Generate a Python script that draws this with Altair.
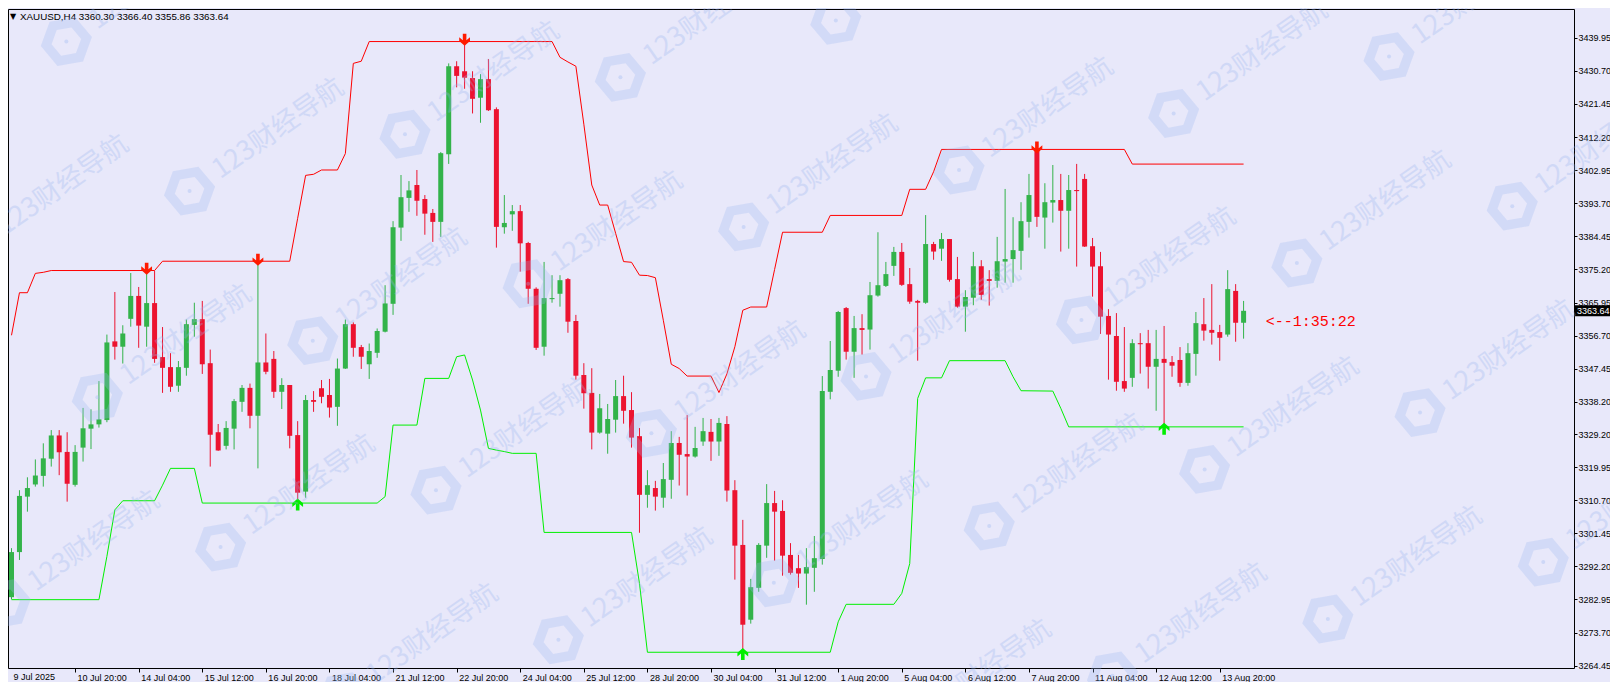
import altair as alt
import pandas as pd

# ---------------- data (H4 candles, k = 0..155) ----------------
OPEN = [3283.6, 3296.2, 3311.7, 3315.1, 3317.5, 3322.3, 3328.8, 3324.2, 3315.0, 3325.4,
        3330.7, 3331.9, 3333.1, 3355.1, 3353.6, 3361.4, 3367.8, 3359.2, 3365.8, 3350.7,
        3347.9, 3342.7, 3347.7, 3359.7, 3361.3, 3349.0, 3329.7, 3325.9, 3330.7, 3338.2,
        3342.1, 3334.3, 3349.2, 3350.2, 3341.0, 3342.9, 3328.9, 3313.1, 3338.7, 3342.0,
        3340.1, 3336.8, 3347.5, 3359.9, 3353.5, 3348.7, 3351.9, 3357.8, 3365.6, 3386.9,
        3395.2, 3398.8, 3394.9, 3391.0, 3388.5, 3407.4, 3432.0, 3430.6, 3428.7, 3423.2,
        3428.4, 3420.0, 3387.0, 3390.6, 3391.5, 3382.6, 3369.8, 3353.6, 3366.9, 3368.4,
        3372.5, 3360.8, 3345.7, 3340.7, 3329.6, 3329.3, 3333.2, 3339.8, 3335.9, 3328.6,
        3312.2, 3314.1, 3311.4, 3316.4, 3326.7, 3323.6, 3322.9, 3327.1, 3329.8, 3327.1,
        3332.0, 3313.5, 3298.2, 3277.3, 3286.2, 3298.0, 3309.9, 3307.7, 3295.4, 3291.7,
        3290.2, 3291.8, 3294.3, 3341.0, 3346.9, 3364.4, 3352.2, 3358.8, 3358.4, 3367.9,
        3370.6, 3376.2, 3380.1, 3371.1, 3366.4, 3365.9, 3382.3, 3381.0, 3383.7, 3372.5,
        3364.8, 3367.3, 3376.1, 3372.5, 3372.0, 3377.4, 3378.1, 3380.4, 3388.5, 3408.6,
        3389.7, 3393.9, 3394.6, 3391.6, 3397.4, 3400.5, 3381.7, 3376.1, 3362.2, 3356.6,
        3344.0, 3344.9, 3354.6, 3354.6, 3348.0, 3350.2, 3349.3, 3349.9, 3343.5, 3351.6,
        3359.9, 3358.3, 3357.7, 3357.0, 3369.2, 3360.30]
HIGH = [3297.3, 3313.5, 3317.1, 3322.1, 3326.6, 3330.3, 3330.3, 3329.7, 3326.1, 3336.5,
        3336.1, 3344.0, 3357.0, 3368.9, 3359.6, 3374.2, 3370.3, 3374.9, 3374.8, 3359.1,
        3351.8, 3349.6, 3361.2, 3365.9, 3366.4, 3352.8, 3332.0, 3332.8, 3339.0, 3342.9,
        3343.3, 3377.4, 3357.3, 3352.4, 3344.8, 3342.9, 3332.8, 3340.1, 3341.2, 3344.3,
        3344.6, 3350.3, 3361.2, 3360.4, 3354.1, 3354.5, 3358.7, 3370.8, 3388.7, 3401.6,
        3399.9, 3403.0, 3396.0, 3392.1, 3408.0, 3432.8, 3433.4, 3438.9, 3430.6, 3429.8,
        3434.0, 3420.5, 3396.0, 3393.2, 3393.2, 3382.9, 3370.2, 3377.3, 3373.6, 3373.6,
        3372.8, 3362.5, 3349.0, 3347.6, 3340.4, 3337.6, 3344.3, 3345.5, 3340.9, 3330.9,
        3319.1, 3316.1, 3321.1, 3330.0, 3328.4, 3334.5, 3331.2, 3333.7, 3333.4, 3333.7,
        3334.2, 3316.3, 3305.2, 3288.7, 3298.7, 3315.2, 3313.3, 3310.7, 3298.7, 3295.4,
        3297.3, 3300.7, 3345.4, 3355.2, 3363.6, 3364.7, 3362.2, 3362.7, 3371.7, 3385.6,
        3377.3, 3381.5, 3382.6, 3375.6, 3366.7, 3390.4, 3382.9, 3385.4, 3383.7, 3378.7,
        3369.4, 3380.1, 3377.8, 3375.0, 3384.3, 3397.7, 3389.8, 3394.0, 3401.9, 3408.8,
        3399.3, 3404.4, 3401.9, 3401.6, 3404.7, 3401.9, 3384.0, 3380.1, 3364.1, 3363.0,
        3359.1, 3355.7, 3357.4, 3358.3, 3358.3, 3359.4, 3351.0, 3353.5, 3354.6, 3363.3,
        3367.2, 3371.1, 3359.7, 3375.0, 3371.1, 3366.40]
LOW = [3283.0, 3294.0, 3307.5, 3314.5, 3314.5, 3320.1, 3317.7, 3310.3, 3314.5, 3321.5,
       3325.0, 3331.0, 3332.5, 3350.0, 3348.9, 3359.2, 3353.3, 3353.6, 3349.1, 3340.7,
       3341.0, 3341.0, 3345.5, 3356.4, 3346.0, 3320.1, 3324.5, 3324.9, 3324.9, 3335.4,
       3330.8, 3319.6, 3345.9, 3339.3, 3336.2, 3325.2, 3310.0, 3311.4, 3335.4, 3337.8,
       3333.8, 3331.5, 3347.4, 3350.8, 3347.4, 3344.6, 3350.5, 3357.6, 3362.5, 3383.2,
       3391.3, 3390.2, 3384.9, 3382.9, 3384.3, 3404.7, 3426.1, 3425.7, 3418.8, 3416.2,
       3419.5, 3381.3, 3385.2, 3386.0, 3374.6, 3365.6, 3352.7, 3351.1, 3365.9, 3364.8,
       3357.5, 3344.4, 3336.3, 3324.9, 3329.3, 3323.7, 3329.6, 3332.1, 3325.4, 3301.6,
       3308.6, 3307.8, 3308.6, 3311.1, 3314.8, 3312.0, 3322.6, 3325.9, 3321.7, 3323.1,
       3310.3, 3288.5, 3268.2, 3276.2, 3285.1, 3294.6, 3293.8, 3289.6, 3289.9, 3286.2,
       3281.5, 3285.1, 3292.7, 3338.9, 3345.2, 3350.0, 3344.9, 3351.4, 3352.8, 3367.6,
       3370.3, 3373.4, 3370.6, 3365.6, 3349.7, 3365.6, 3377.9, 3377.6, 3371.8, 3364.5,
       3357.8, 3365.2, 3366.7, 3365.1, 3370.1, 3371.5, 3371.5, 3375.1, 3384.1, 3387.1,
       3381.0, 3388.3, 3380.2, 3381.0, 3376.0, 3381.5, 3367.6, 3357.2, 3344.4, 3341.3,
       3341.0, 3342.4, 3346.1, 3341.9, 3335.7, 3331.2, 3345.2, 3342.4, 3342.7, 3345.5,
       3355.3, 3354.2, 3349.7, 3356.4, 3355.0, 3355.86]
CLOSE = [3296.2, 3311.9, 3314.1, 3317.6, 3322.4, 3328.8, 3324.1, 3315.3, 3324.2, 3330.8,
         3331.9, 3333.3, 3354.8, 3353.6, 3357.3, 3367.8, 3359.5, 3365.8, 3350.2, 3347.7,
         3342.4, 3347.9, 3359.9, 3361.3, 3348.7, 3329.0, 3324.6, 3330.9, 3338.4, 3342.1,
         3334.3, 3349.2, 3346.6, 3341.0, 3342.9, 3328.7, 3312.8, 3338.7, 3338.2, 3339.6,
         3336.6, 3347.5, 3359.9, 3353.3, 3350.8, 3352.4, 3358.0, 3365.7, 3387.0, 3395.4,
         3397.3, 3394.4, 3390.8, 3388.5, 3407.7, 3432.0, 3429.3, 3428.8, 3422.9, 3428.4,
         3419.7, 3387.1, 3388.2, 3391.5, 3382.5, 3369.8, 3353.3, 3367.2, 3367.2, 3372.2,
         3360.6, 3345.5, 3340.6, 3329.6, 3336.4, 3333.4, 3339.8, 3335.7, 3328.2, 3312.2,
         3314.9, 3311.7, 3316.6, 3326.7, 3323.4, 3322.9, 3325.3, 3330.0, 3327.1, 3332.3,
         3313.4, 3298.0, 3275.9, 3286.4, 3298.2, 3309.9, 3307.5, 3295.2, 3290.4, 3290.2,
         3292.0, 3294.5, 3341.2, 3347.1, 3363.3, 3352.2, 3358.8, 3358.3, 3368.0, 3370.8,
         3373.9, 3380.1, 3370.9, 3366.2, 3365.9, 3382.3, 3380.2, 3383.7, 3372.3, 3364.8,
         3367.5, 3376.1, 3368.1, 3372.0, 3377.5, 3378.1, 3380.6, 3388.7, 3396.0, 3389.9,
         3394.0, 3394.6, 3391.6, 3397.4, 3397.1, 3381.6, 3376.0, 3362.0, 3357.0, 3343.8,
         3341.9, 3354.6, 3354.3, 3348.0, 3350.2, 3349.1, 3348.3, 3343.5, 3351.8, 3360.2,
         3358.1, 3357.5, 3356.1, 3369.7, 3360.3, 3363.64]

# upper channel (red) and lower channel (green): vertices (bar index, price)
RED_K = [0, 1, 2, 3, 4, 5, 18, 19, 35, 36, 37, 38, 39, 41, 42, 43, 44, 45, 68, 69, 70, 71,
         72, 73, 74, 75, 76, 77, 78, 79, 80, 81, 82, 83, 84, 85, 88, 89, 90, 91, 92, 93, 95,
         96, 97, 102, 103, 112, 113, 115, 116, 117, 140, 141, 155]
RED_V = [3356.8, 3368.7, 3368.7, 3374.1, 3374.4, 3374.9, 3374.9, 3377.5, 3377.5, 3389.5,
         3401.5, 3401.8, 3403.0, 3403.0, 3407.6, 3432.8, 3433.4, 3438.9, 3438.9, 3434.5,
         3433.2, 3432.0, 3415.8, 3398.8, 3393.2, 3393.2, 3385.3, 3377.4, 3377.2, 3373.6,
         3373.5, 3372.9, 3361.0, 3348.7, 3347.5, 3345.4, 3345.4, 3340.8, 3346.0, 3353.6,
         3363.8, 3364.7, 3364.7, 3375.2, 3385.6, 3385.6, 3390.3, 3390.3, 3397.6, 3397.6,
         3402.5, 3408.75, 3408.75, 3404.65, 3404.65]
GREEN_K = [0, 11, 12, 13, 14, 18, 19, 20, 23, 24, 46, 47, 48, 51, 52, 55, 56, 57, 58, 59,
           60, 61, 62, 63, 66, 67, 78, 79, 80, 103, 104, 105, 111, 112, 113, 114, 115, 117,
           118, 125, 126, 127, 131, 132, 133, 155]
GREEN_V = [3282.9, 3282.9, 3295.0, 3308.0, 3310.55, 3310.55, 3314.9, 3319.6, 3319.6, 3309.9,
           3309.9, 3311.7, 3331.7, 3331.7, 3344.75, 3344.75, 3350.8, 3351.3, 3344.3, 3335.9,
           3325.2, 3324.7, 3324.3, 3323.8, 3323.8, 3301.7, 3301.7, 3287.45, 3268.2, 3268.2,
           3276.7, 3281.6, 3281.6, 3284.65, 3293.0, 3339.15, 3344.9, 3344.9, 3349.7, 3349.7,
           3345.2, 3341.3, 3341.2, 3336.4, 3331.2, 3331.2]

DOWN_ARROW_K = [17, 31, 57, 129]
DOWN_ARROW_P = [3374.9, 3377.4, 3438.9, 3408.75]
UP_ARROW_K = [36, 92, 145]
UP_ARROW_P = [3310.0, 3268.2, 3331.2]

X_LABELS = ["9 Jul 2025", "10 Jul 20:00", "14 Jul 04:00", "15 Jul 12:00", "16 Jul 20:00",
            "18 Jul 04:00", "21 Jul 12:00", "22 Jul 20:00", "24 Jul 04:00", "25 Jul 12:00",
            "28 Jul 20:00", "30 Jul 04:00", "31 Jul 12:00", "1 Aug 20:00", "5 Aug 04:00",
            "6 Aug 12:00", "7 Aug 20:00", "11 Aug 04:00", "12 Aug 12:00", "13 Aug 20:00"]
Y_TICKS = [3439.95, 3430.70, 3421.45, 3412.20, 3402.95, 3393.70, 3384.45, 3375.20, 3365.95,
           3356.70, 3347.45, 3338.20, 3329.20, 3319.95, 3310.70, 3301.45, 3292.20, 3282.95,
           3273.70, 3264.45]

HEADER = "XAUUSD,H4  3360.30 3366.40 3355.86 3363.64"
LAST_PRICE = 3363.64
TIMER = "<--1:35:22"
TIMER_K = 157.8
TIMER_P = 3360.8

# watermark anchors (bar index, price)
WM_TEXT = "123财经导航"
WM_K = [6.9, -4.7, 22.4, 49.5, 76.6, 103.7, 10.8, 37.9, 65.0, 92.1, 119.2, 146.2, 173.3,
        -0.8, 26.3, 53.4, 80.5, 107.5, 134.6, 161.7, 188.8, 41.8, 68.8, 95.9, 123.0, 150.1,
        177.2, 111.4, 138.5, 165.6, 192.7]
WM_P = [3438.9, 3381.3, 3397.1, 3413.0, 3428.9, 3444.8, 3339.5, 3355.3, 3371.2, 3387.1,
        3403.0, 3418.8, 3434.7, 3281.8, 3297.6, 3313.5, 3329.4, 3345.3, 3361.1, 3377.0,
        3392.9, 3255.8, 3271.7, 3287.6, 3303.5, 3319.3, 3335.2, 3245.8, 3261.6, 3277.5,
        3293.4]

# ---------------- styling ----------------
BG = "#E8E8FA"
BULL = "#33B34A"
BEAR = "#EC1330"
WM_COLOR = "#9AB6F0"
FONT = "Liberation Sans"
W, H = 1566, 659
K0 = 0.1875

n = len(OPEN)
candles = pd.DataFrame({"k": list(range(n)), "open": OPEN, "high": HIGH,
                        "low": LOW, "close": CLOSE})
candles["top"] = candles[["open", "close"]].max(axis=1)
candles["bot"] = candles[["open", "close"]].min(axis=1)
candles["dir"] = ["up" if c >= o else "down" for o, c in zip(OPEN, CLOSE)]

red_df = pd.DataFrame({"k": RED_K, "v": RED_V})
green_df = pd.DataFrame({"k": GREEN_K, "v": GREEN_V})
down_df = pd.DataFrame({"k": DOWN_ARROW_K, "p": DOWN_ARROW_P})
up_df = pd.DataFrame({"k": UP_ARROW_K, "p": UP_ARROW_P})
wm_df = pd.DataFrame({"k": WM_K, "p": WM_P, "t": [WM_TEXT] * len(WM_K)})

xs = alt.Scale(domain=[K0, K0 + W / 8], nice=False, zero=False)
ys = alt.Scale(domain=[3263.8, 3448.0], nice=False, zero=False)
color = alt.Color("dir:N", scale=alt.Scale(domain=["up", "down"], range=[BULL, BEAR]),
                  legend=None)

label_js = "[" + ",".join("'" + s + "'" for s in X_LABELS) + "][round(datum.value/8)]"
x_axis = alt.Axis(values=[8 * i for i in range(1, len(X_LABELS))], labelExpr=label_js,
                  labelAlign="left", labelOffset=2, labelFont=FONT, labelFontSize=9,
                  labelColor="black", tickColor="black", tickSize=4, labelPadding=1,
                  grid=False, domain=False, title=None, labelOverlap=False, labelFlush=False)
y_axis = alt.Axis(orient="right", values=Y_TICKS, format=".2f", labelFont=FONT,
                  labelFontSize=9, labelColor="black", tickColor="black", tickSize=3,
                  labelPadding=1, grid=False, domain=False, title=None, labelOverlap=False,
                  labelFlush=False)


def XE():
    return alt.X("k:Q", scale=xs, axis=x_axis)


def YE(field):
    return alt.Y(field, scale=ys, axis=y_axis)


wicks = alt.Chart(candles).mark_rule(strokeWidth=1).encode(
    x=XE(), y=YE("low:Q"), y2="high:Q", color=color)
bodies = alt.Chart(candles).mark_bar(size=5).encode(
    x=XE(), y=YE("bot:Q"), y2="top:Q", color=color)
red_line = alt.Chart(red_df).mark_line(color="#FF0000", strokeWidth=1).encode(
    x=XE(), y=YE("v:Q"))
green_line = alt.Chart(green_df).mark_line(color="#00F000", strokeWidth=1).encode(
    x=XE(), y=YE("v:Q"))

DOWN_PATH = "M-0.3,-1.3 L0.3,-1.3 L0.3,-0.2 L0.9,-0.7 L0.9,-0.1 L0,0.7 L-0.9,-0.1 L-0.9,-0.7 L-0.3,-0.2 Z"
UP_PATH = "M-0.3,1.3 L0.3,1.3 L0.3,0.2 L0.9,0.7 L0.9,0.1 L0,-0.7 L-0.9,0.1 L-0.9,0.7 L-0.3,0.2 Z"
down_arrows = alt.Chart(down_df).mark_point(shape=DOWN_PATH, filled=True, size=144,
                                            opacity=1, color="#FF1A00", strokeWidth=0).encode(
    x=XE(), y=YE("p:Q"))
up_arrows = alt.Chart(up_df).mark_point(shape=UP_PATH, filled=True, size=144,
                                        opacity=1, color="#00EE00", strokeWidth=0).encode(
    x=XE(), y=YE("p:Q"))

timer = alt.Chart(pd.DataFrame({"k": [TIMER_K], "p": [TIMER_P], "t": [TIMER]})).mark_text(
    font="Liberation Mono", fontSize=15, color="#FF0000", align="left", baseline="middle"
).encode(x=XE(), y=YE("p:Q"), text="t:N")

first_label = alt.Chart(pd.DataFrame({"k": [0], "t": [X_LABELS[0]]})).mark_text(
    font=FONT, fontSize=9, color="black", align="left", baseline="top", dx=2
).encode(x=XE(), y=alt.value(H + 5), text="t:N")

price_df = pd.DataFrame({"p": [LAST_PRICE], "p1": [LAST_PRICE - 1.55],
                         "p2": [LAST_PRICE + 1.55], "t": [f"{LAST_PRICE:.2f}"]})
price_box = alt.Chart(price_df).mark_rect(color="black").encode(
    x=alt.value(W + 1), x2=alt.value(W + 36), y=YE("p1:Q"), y2="p2:Q")
price_txt = alt.Chart(price_df).mark_text(
    font=FONT, fontSize=9, color="white", align="left", baseline="middle"
).encode(x=alt.value(W + 3), y=YE("p:Q"), text="t:N")

header_df = pd.DataFrame({"t": [HEADER], "tri": ["▼"]})
header_tri = alt.Chart(header_df).mark_text(
    font="DejaVu Sans", fontSize=8, color="black", align="left", baseline="middle"
).encode(x=alt.value(2), y=alt.value(8), text="tri:N")
header = alt.Chart(header_df).mark_text(
    font=FONT, fontSize=9.8, color="black", align="left", baseline="middle"
).encode(x=alt.value(12), y=alt.value(8), text="t:N")

# watermark: hexagon badge + rotated text
HEX = ("M0,-1 L0.866,-0.5 L0.866,0.5 L0,1 L-0.866,0.5 L-0.866,-0.5 Z "
       "M0,-0.58 L-0.5,-0.29 L-0.5,0.29 L0,0.58 L0.5,0.29 L0.5,-0.29 Z")
wm_icon = alt.Chart(wm_df).mark_point(shape=HEX, filled=True, size=2700, angle=20,
                                      opacity=0.28, color=WM_COLOR, strokeWidth=0).encode(
    x=XE(), y=YE("p:Q"))
wm_dot = alt.Chart(wm_df).mark_point(shape="circle", filled=True, size=16,
                                     opacity=0.35, color=WM_COLOR, strokeWidth=0).encode(
    x=XE(), y=YE("p:Q"))
wm_text = alt.Chart(wm_df).mark_text(
    font="Noto Sans CJK SC", fontSize=27, angle=325, dx=32, color=WM_COLOR, opacity=0.3,
    align="left", baseline="middle"
).encode(x=XE(), y=YE("p:Q"), text="t:N")

chart = alt.layer(
    wicks, bodies, red_line, green_line, down_arrows, up_arrows,
    timer, first_label, price_box, price_txt, header_tri, header,
    wm_icon, wm_dot, wm_text,
).properties(
    width=W, height=H, background=BG,
    padding={"left": 0, "top": 1, "right": 36, "bottom": 14},
    autosize=alt.AutoSizeParams(type="none"),
).configure_view(stroke="black", strokeWidth=1, fill=BG)

chart.save("out.html", embed_options={"renderer": "svg", "actions": False})
